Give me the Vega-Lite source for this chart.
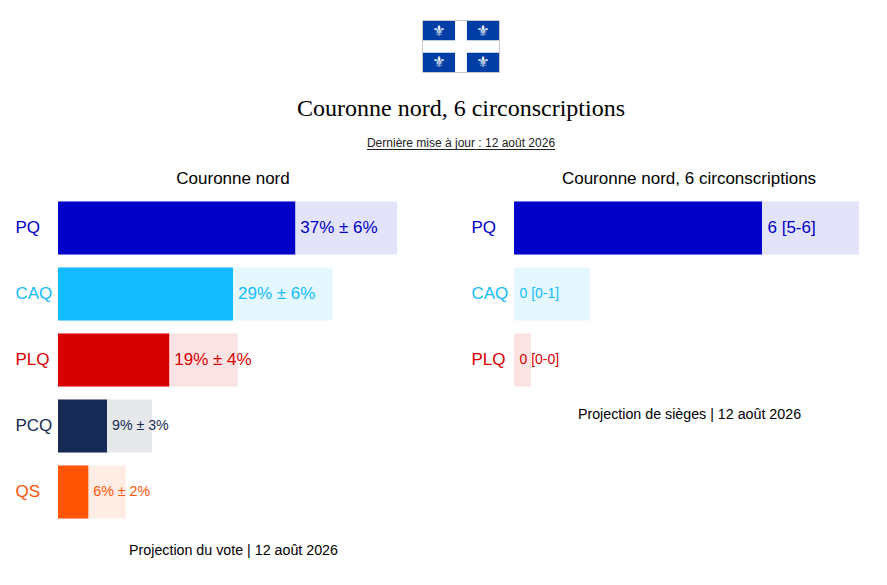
{
  "$schema": "https://vega.github.io/schema/vega-lite/v6.json",
  "padding": {"left": 15, "top": 0, "right": 0, "bottom": 0},
  "background": "white",
  "spacing": 20,
  "datasets": {
    "vote": [
      {"parti": "PQ", "bas": 30.5, "haut": 43.6, "etiquette": "37% ± 6%"},
      {"parti": "CAQ", "bas": 22.5, "haut": 35.3, "etiquette": "29% ± 6%"},
      {"parti": "PLQ", "bas": 14.3, "haut": 23.1, "etiquette": "19% ± 4%"},
      {"parti": "PCQ", "bas": 6.3, "haut": 12.1, "etiquette": "9% ± 3%"},
      {"parti": "QS", "bas": 3.9, "haut": 8.7, "etiquette": "6% ± 2%"}
    ],
    "sieges": [
      {"parti": "PQ", "bas": 4.96, "haut": 6.9, "etiquette": "6 [5-6]"},
      {"parti": "CAQ", "bas": 0, "haut": 1.52, "etiquette": "0 [0-1]"},
      {"parti": "PLQ", "bas": 0, "haut": 0.34, "etiquette": "0 [0-0]"}
    ]
  },
  "vconcat": [
    {
      "width": 806,
      "height": 74,
      "title": {
        "text": "Couronne nord, 6 circonscriptions",
        "subtitle": "Dernière mise à jour : 12 août 2026",
        "orient": "bottom",
        "anchor": "middle",
        "frame": "group",
        "font": "Liberation Serif",
        "fontSize": 24,
        "fontWeight": "normal",
        "color": "#000000",
        "offset": -53,
        "subtitleFont": "Liberation Sans",
        "subtitleFontSize": 12,
        "subtitleColor": "#222222",
        "subtitlePadding": 17
      },
      "layer": [
        {
          "data": {"values": [{"cadre": "drapeau"}]},
          "mark": {"type": "rect", "fill": "white", "stroke": "#c8c8c8", "strokeWidth": 1},
          "encoding": {
            "x": {"field": "cadre", "type": "nominal", "axis": null, "scale": {"range": [364.5, 441.5], "padding": 0}},
            "y": {"field": "cadre", "type": "nominal", "axis": null, "scale": {"range": [20.5, 72.5], "padding": 0}}
          }
        },
        {
          "data": {
            "values": [
              {"colonne": "g", "rangee": "h"},
              {"colonne": "d", "rangee": "h"},
              {"colonne": "g", "rangee": "b"},
              {"colonne": "d", "rangee": "b"}
            ]
          },
          "encoding": {
            "x": {"field": "colonne", "type": "nominal", "axis": null, "scale": {"domain": ["g", "d"], "range": [365, 441], "paddingInner": 0.27, "paddingOuter": 0}},
            "y": {"field": "rangee", "type": "nominal", "axis": null, "scale": {"domain": ["h", "b"], "range": [21, 72], "paddingInner": 0.39, "paddingOuter": 0}}
          },
          "layer": [
            {"mark": {"type": "rect", "color": "#003da5"}},
            {"mark": {"type": "text", "text": "⚜", "font": "DejaVu Sans", "fontSize": 15, "color": "white"}}
          ]
        },
        {
          "data": {"values": [{"trait": "soulignement"}]},
          "mark": {"type": "rect", "color": "#222222"},
          "encoding": {
            "x": {"field": "trait", "type": "nominal", "axis": null, "scale": {"range": [309, 497], "padding": 0}},
            "y": {"field": "trait", "type": "nominal", "axis": null, "scale": {"range": [149, 150], "padding": 0}}
          }
        }
      ],
      "resolve": {"scale": {"x": "independent", "y": "independent"}}
    },
    {
      "spacing": 63,
      "hconcat": [
        {
          "width": 350,
          "height": 330,
          "title": "Couronne nord",
          "data": {"name": "vote"},
          "encoding": {
            "y": {
              "field": "parti",
              "type": "nominal",
              "sort": null,
              "title": null,
              "scale": {"paddingInner": 0.197, "paddingOuter": 0.0985},
              "axis": {
                "domain": false,
                "ticks": false,
                "labelAlign": "left",
                "labelPadding": 43,
                "labelFontSize": 17,
                "labelLimit": 60,
                "labelColor": {"expr": "{'PQ':'#0000c8','CAQ':'#12bcff','PLQ':'#d80000','PCQ':'#172a55','QS':'#ff5505'}[datum.value]"}
              }
            },
            "color": {
              "field": "parti",
              "type": "nominal",
              "legend": null,
              "scale": {"domain": ["PQ", "CAQ", "PLQ", "PCQ", "QS"], "range": ["#0000c8", "#12bcff", "#d80000", "#172a55", "#ff5505"]}
            }
          },
          "layer": [
            {
              "mark": {"type": "bar", "opacity": 0.11},
              "encoding": {
                "x": {
                  "field": "haut",
                  "type": "quantitative",
                  "scale": {"domain": [0, 45]},
                  "axis": {"title": "Projection du vote | 12 août 2026", "labels": false, "ticks": false, "domain": false, "grid": false, "titleFontSize": 14.25, "titleFontWeight": "normal", "titleColor": "#000000", "titlePadding": 18}
                }
              }
            },
            {
              "mark": {"type": "bar"},
              "encoding": {"x": {"field": "bas", "type": "quantitative"}}
            },
            {
              "mark": {"type": "text", "align": "left", "dx": 5},
              "encoding": {
                "x": {"field": "bas", "type": "quantitative"},
                "text": {"field": "etiquette"},
                "size": {"condition": {"test": "datum.bas >= 10", "value": 17}, "value": 14.2}
              }
            }
          ]
        },
        {
          "width": 350,
          "height": 198,
          "title": "Couronne nord, 6 circonscriptions",
          "data": {"name": "sieges"},
          "encoding": {
            "y": {
              "field": "parti",
              "type": "nominal",
              "sort": null,
              "title": null,
              "scale": {"paddingInner": 0.197, "paddingOuter": 0.0985},
              "axis": {
                "domain": false,
                "ticks": false,
                "labelAlign": "left",
                "labelPadding": 43,
                "labelFontSize": 17,
                "labelLimit": 60,
                "labelColor": {"expr": "{'PQ':'#0000c8','CAQ':'#12bcff','PLQ':'#d80000'}[datum.value]"}
              }
            },
            "color": {
              "field": "parti",
              "type": "nominal",
              "legend": null,
              "scale": {"domain": ["PQ", "CAQ", "PLQ"], "range": ["#0000c8", "#12bcff", "#d80000"]}
            }
          },
          "layer": [
            {
              "mark": {"type": "bar", "opacity": 0.11},
              "encoding": {
                "x": {
                  "field": "haut",
                  "type": "quantitative",
                  "scale": {"domain": [0, 7]},
                  "axis": {"title": "Projection de sièges | 12 août 2026", "labels": false, "ticks": false, "domain": false, "grid": false, "titleFontSize": 14.25, "titleFontWeight": "normal", "titleColor": "#000000", "titlePadding": 14}
                }
              }
            },
            {
              "mark": {"type": "bar"},
              "encoding": {"x": {"field": "bas", "type": "quantitative"}}
            },
            {
              "mark": {"type": "text", "align": "left", "dx": 5.5},
              "encoding": {
                "x": {"field": "bas", "type": "quantitative"},
                "text": {"field": "etiquette"},
                "size": {"condition": {"test": "datum.bas >= 1", "value": 17}, "value": 14}
              }
            }
          ]
        }
      ]
    }
  ],
  "config": {
    "font": "Liberation Sans",
    "view": {"stroke": null},
    "title": {"fontSize": 17, "fontWeight": "normal", "color": "#000000", "offset": 7}
  }
}
